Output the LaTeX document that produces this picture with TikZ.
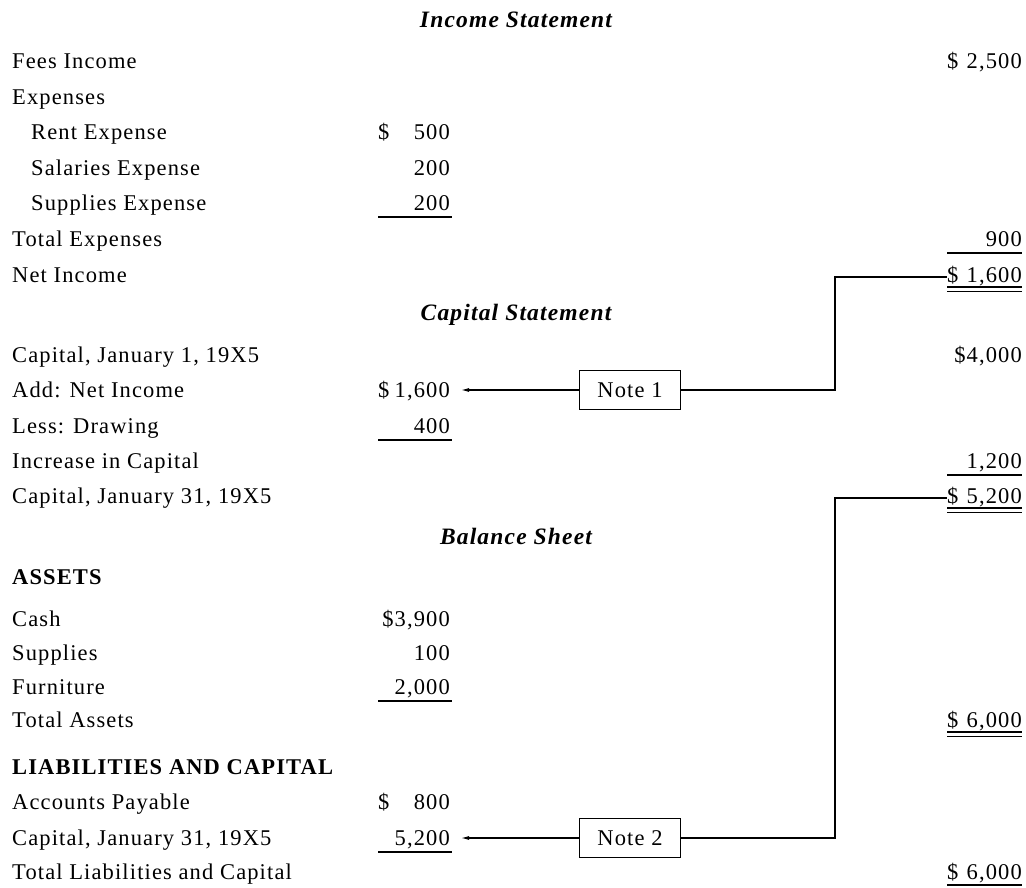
\documentclass[tikz,border=0pt]{standalone}
\usepackage{fontspec}
\setmainfont[LetterSpace=5]{Liberation Serif}
\usetikzlibrary{arrows.meta}
\newcommand\fsz{\fontsize{22.5}{26}\selectfont}
\newcommand\tsz{\fontsize{23.5}{27}\selectfont}
\begin{document}
\begin{tikzpicture}[x=1pt,y=-1pt,
  every node/.style={inner sep=0pt, font=\fsz},
  lbl/.style={anchor=base west},
  num/.style={anchor=base east},
  ttl/.style={anchor=base, font=\tsz\bfseries\itshape},
  hdr/.style={anchor=base west, font=\fsz\bfseries},
  notebox/.style={draw, line width=1.1pt, minimum width=101pt, minimum height=39pt, anchor=center},
  conn/.style={line width=1.1pt},
  arr/.style={conn, -{Latex[length=8pt,width=4pt]}},
  rule/.style={line width=1.2pt}]
\useasboundingbox (0,0) rectangle (1026,887);
% ---------- Income Statement
\node[ttl] (tIS) at (516,27) {Income Statement};
\node[lbl] (lFees) at (12,68) {Fees Income};
\node[lbl] (dFees) at (947,68) {\$};
\node[num] (nFees) at (1022,68) {2,500};
\node[lbl] (lExp) at (12,104) {Expenses};
\node[lbl] (lRent) at (31,139) {Rent Expense};
\node[lbl] (dRent) at (378,139) {\$};
\node[num] (nRent) at (450,139) {500};
\node[lbl] (lSal) at (31,175) {Salaries Expense};
\node[num] (nSal) at (450,175) {200};
\node[lbl] (lSup) at (31,210) {Supplies Expense};
\node[num] (nSup) at (450,210) {200};
\node[lbl] (lTotE) at (12,246) {Total Expenses};
\node[num] (nTotE) at (1022,246) {900};
\node[lbl] (lNetI) at (12,282) {Net Income};
\node[lbl] (dNetI) at (947,282) {\$};
\node[num] (nNetI) at (1022,282) {1,600};
% ---------- Capital Statement
\node[ttl] (tCS) at (516,320) {Capital Statement};
\node[lbl] (lCJ1) at (12,362) {Capital, January 1, 19X5};
\node[num] (nCJ1) at (1022,362) {\$4,000};
\node[lbl] (lAdd) at (12,397) {Add: Net Income};
\node[lbl] (dAdd) at (378,397) {\$};
\node[num] (nAdd) at (450,397) {1,600};
\node[lbl] (lLess) at (12,433) {Less: Drawing};
\node[num] (nLess) at (450,433) {400};
\node[lbl] (lInc) at (12,468) {Increase in Capital};
\node[num] (nInc) at (1022,468) {1,200};
\node[lbl] (lCJ31) at (12,503) {Capital, January 31, 19X5};
\node[lbl] (dCJ31) at (947,503) {\$};
\node[num] (nCJ31) at (1022,503) {5,200};
% ---------- Balance Sheet
\node[ttl] (tBS) at (516,544) {Balance Sheet};
\node[hdr] (hAS) at (12,584) {ASSETS};
\node[lbl] (lCash) at (12,626) {Cash};
\node[num] (nCash) at (450,626) {\$3,900};
\node[lbl] (lSupp) at (12,660) {Supplies};
\node[num] (nSupp) at (450,660) {100};
\node[lbl] (lFurn) at (12,694) {Furniture};
\node[num] (nFurn) at (450,694) {2,000};
\node[lbl] (lTA) at (12,727) {Total Assets};
\node[lbl] (dTA) at (947,727) {\$};
\node[num] (nTA) at (1022,727) {6,000};
\node[hdr] (hLC) at (12,774) {LIABILITIES AND CAPITAL};
\node[lbl] (lAP) at (12,809) {Accounts Payable};
\node[lbl] (dAP) at (378,809) {\$};
\node[num] (nAP) at (450,809) {800};
\node[lbl] (lCJ31b) at (12,845) {Capital, January 31, 19X5};
\node[num] (nCJ31b) at (450,845) {5,200};
\node[lbl] (lTL) at (12,879) {Total Liabilities and Capital};
\node[lbl] (dTL) at (947,879) {\$};
\node[num] (nTL) at (1022,879) {6,000};
% ---------- underlines
\draw[rule] (378,217) -- (452,217);
\draw[rule] (947,253) -- (1022,253);
\draw[rule] (947,287) -- (1022,287);
\draw[rule] (947,291.5) -- (1022,291.5);
\draw[rule] (378,440) -- (452,440);
\draw[rule] (947,475) -- (1022,475);
\draw[rule] (947,508) -- (1022,508);
\draw[rule] (947,512.5) -- (1022,512.5);
\draw[rule] (378,701) -- (452,701);
\draw[rule] (947,732) -- (1022,732);
\draw[rule] (947,736.5) -- (1022,736.5);
\draw[rule] (378,852) -- (452,852);
\draw[rule] (947,885) -- (1022,885);
% ---------- notes and connectors
\node[notebox] (note1) at (630,390) {Note 1};
\node[notebox] (note2) at (630,838) {Note 2};
\coordinate (k1) at (835,277);
\coordinate (k2) at (835,498);
\coordinate (a1) at (461,390);
\coordinate (a2) at (461,838);
\draw[conn] (note1.east) -| (k1) -- (k1 -| dNetI.west);
\draw[arr] (note1.west) -- (a1);
\draw[conn] (note2.east) -| (k2) -- (k2 -| dCJ31.west);
\draw[arr] (note2.west) -- (a2);
\end{tikzpicture}
\end{document}
